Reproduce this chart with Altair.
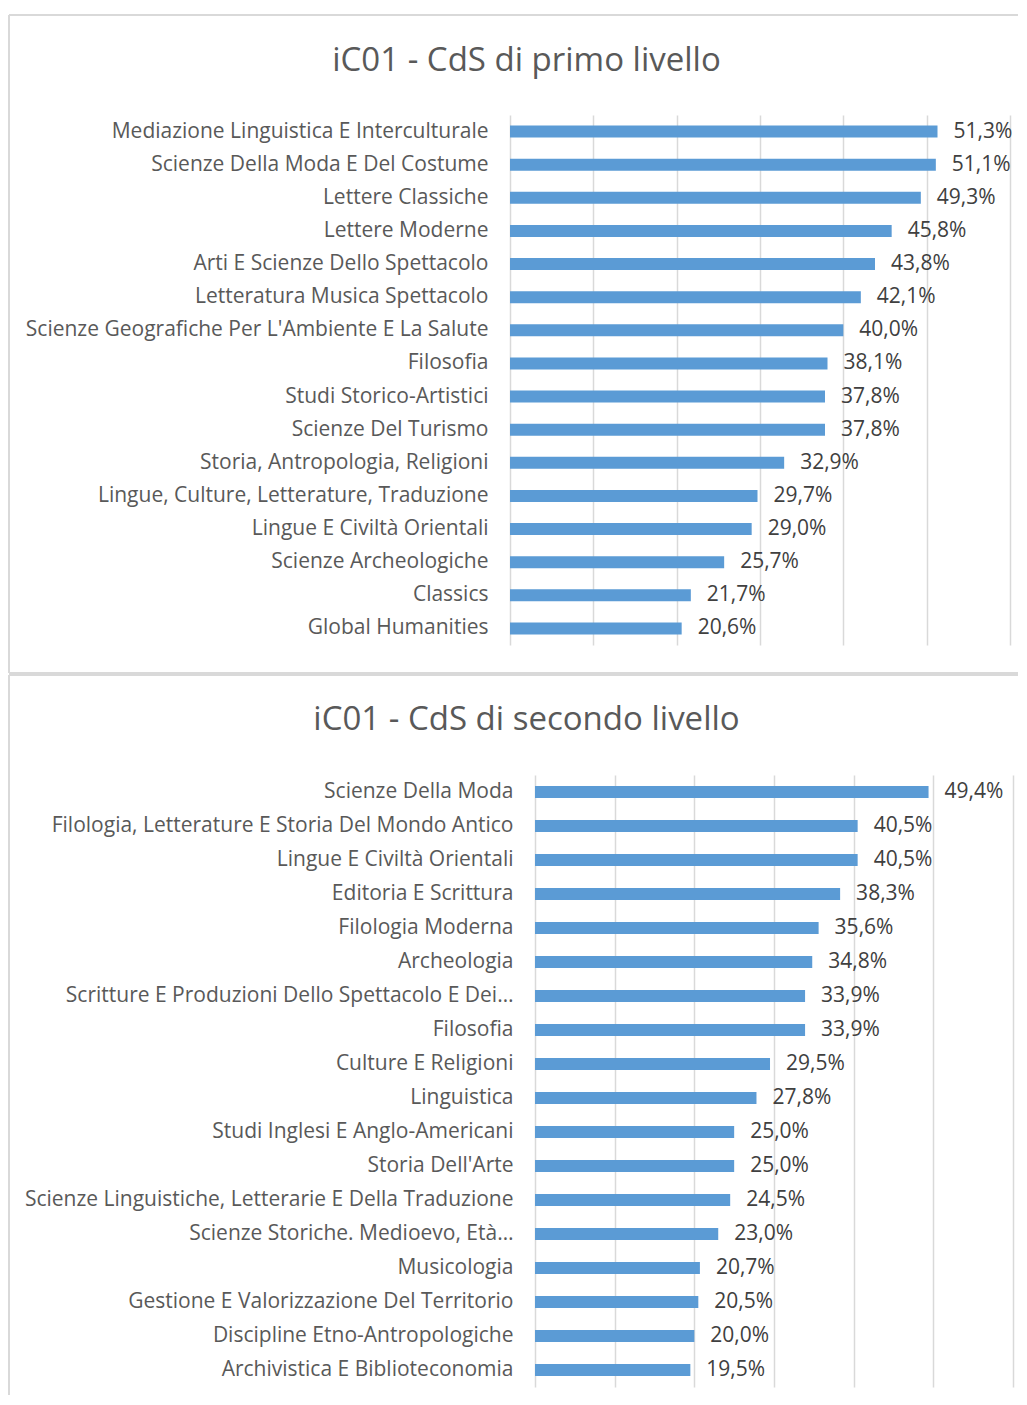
import altair as alt
import pandas as pd

cats1 = [
    "Mediazione Linguistica E Interculturale",
    "Scienze Della Moda E Del Costume",
    "Lettere Classiche",
    "Lettere Moderne",
    "Arti E Scienze Dello Spettacolo",
    "Letteratura Musica Spettacolo",
    "Scienze Geografiche Per L'Ambiente E La Salute",
    "Filosofia",
    "Studi Storico-Artistici",
    "Scienze Del Turismo",
    "Storia, Antropologia, Religioni",
    "Lingue, Culture, Letterature, Traduzione",
    "Lingue E Civiltà Orientali",
    "Scienze Archeologiche",
    "Classics",
    "Global Humanities",
]
vals1 = [51.3, 51.1, 49.3, 45.8, 43.8, 42.1, 40.0, 38.1, 37.8, 37.8, 32.9, 29.7, 29.0, 25.7, 21.7, 20.6]

cats2 = [
    "Scienze Della Moda",
    "Filologia, Letterature E Storia Del Mondo Antico",
    "Lingue E Civiltà Orientali",
    "Editoria E Scrittura",
    "Filologia Moderna",
    "Archeologia",
    "Scritture E Produzioni Dello Spettacolo E Dei…",
    "Filosofia",
    "Culture E Religioni",
    "Linguistica",
    "Studi Inglesi E Anglo-Americani",
    "Storia Dell'Arte",
    "Scienze Linguistiche, Letterarie E Della Traduzione",
    "Scienze Storiche. Medioevo, Età…",
    "Musicologia",
    "Gestione E Valorizzazione Del Territorio",
    "Discipline Etno-Antropologiche",
    "Archivistica E Biblioteconomia",
]
vals2 = [49.4, 40.5, 40.5, 38.3, 35.6, 34.8, 33.9, 33.9, 29.5, 27.8, 25.0, 25.0, 24.5, 23.0, 20.7, 20.5, 20.0, 19.5]

title1 = "iC01 - CdS di primo livello"
title2 = "iC01 - CdS di secondo livello"
grid_values = [0, 10, 20, 30, 40, 50, 60]

FONT = "Open Sans"
BAR = "#5B9BD5"
GRID = "#D9D9D9"
FRAME = "#D9D9D9"
LABEL_SIZE = 21
TITLE_SIZE = 33


def fmt(v):
    return f"{v:.1f}%".replace(".", ",")


def rule(**enc):
    return (
        alt.Chart(pd.DataFrame({"k": [0]}))
        .mark_rule(color=FRAME, strokeWidth=2)
        .encode(**{k: alt.value(v) for k, v in enc.items()})
    )


def panel(cats, vals, title, width, height, inset, top, bottom, title_offset, bottom_line):
    df = pd.DataFrame({"cat": cats, "val": vals, "lab": [fmt(v) for v in vals]})
    base = alt.Chart(df).encode(
        y=alt.Y(
            "cat:N",
            sort=cats,
            title=None,
            scale=alt.Scale(paddingInner=0.6, paddingOuter=0.3),
            axis=alt.Axis(
                ticks=False,
                domain=False,
                grid=False,
                labelPadding=22,
                labelFont=FONT,
                labelFontSize=LABEL_SIZE,
                labelColor="#595959",
                labelLimit=0,
                offset=-inset,
            ),
        ),
        x=alt.X(
            "val:Q",
            title=None,
            scale=alt.Scale(domain=[0, 60], nice=False, range=[inset, width]),
            axis=alt.Axis(
                values=grid_values,
                labels=False,
                ticks=False,
                domain=False,
                grid=True,
                gridColor=GRID,
                gridWidth=1.5,
            ),
        ),
    )
    bars = base.mark_bar(color=BAR, size=12)
    text = base.mark_text(
        align="left", baseline="middle", dx=16, font=FONT, fontSize=LABEL_SIZE, color="#404040"
    ).encode(text="lab:N")
    left, right = -501, 508
    layers = [
        rule(x=left, y=top, y2=bottom),
        rule(x=left, x2=right, y=top),
    ]
    if bottom_line:
        layers.append(rule(x=left, x2=right, y=bottom))
    layers += [bars, text]
    return alt.layer(*layers).properties(
        width=width,
        height=height,
        title=alt.TitleParams(
            text=title,
            font=FONT,
            fontSize=TITLE_SIZE,
            fontWeight="normal",
            color="#595959",
            anchor="middle",
            frame="bounds",
            baseline="alphabetic",
            offset=title_offset,
            dx=13,
        ),
    )


p1 = panel(cats1, vals1, title1, 500, 530, 0, -100, 558, -90, True)
p2 = panel(cats2, vals2, title2, 503, 612, 25, -100, 620, -89, False)

chart = (
    alt.vconcat(p1, p2, spacing=0)
    .resolve_scale(x="independent", y="independent")
    .properties(padding={"left": 0, "top": 6, "right": 0, "bottom": 0})
    .configure_view(stroke=None)
)

chart.save("out.html", embed_options={"renderer": "svg", "actions": False})
